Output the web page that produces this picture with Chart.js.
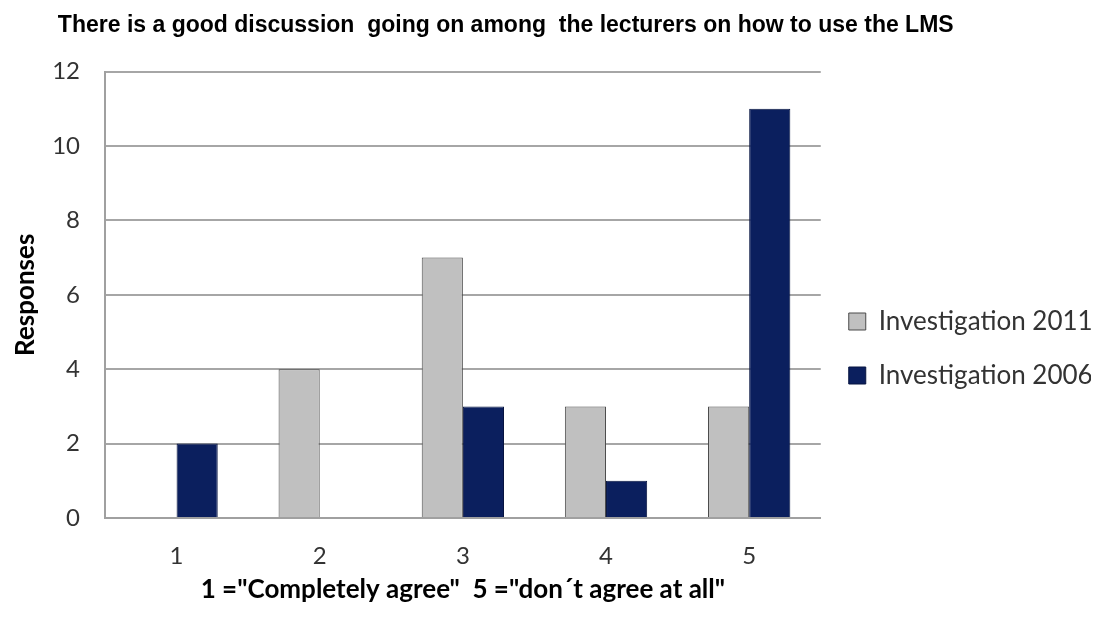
<!DOCTYPE html>
<html>
<head>
<meta charset="utf-8">
<script src="https://cdn.jsdelivr.net/npm/chart.js@4/dist/chart.umd.min.js"></script>
<style>
  html, body { margin: 0; padding: 0; background: #fff; }
  #wrap { width: 1109px; height: 617px; }
</style>
</head>
<body>
<div id="wrap"><canvas id="bars"></canvas></div>
<script>
var categories = ["1", "2", "3", "4", "5"];
var inv2011 = [0, 4, 7, 3, 3];
var inv2006 = [2, 0, 3, 1, 11];
var yTicks = [0, 2, 4, 6, 8, 10, 12];

var ctx = document.getElementById("bars").getContext("2d");
var axisFont = "Lato, 'Open Sans', sans-serif";

// trailing spaces push the centred title a little to the left, like the original
var titleText = "There is a good discussion  going on among  the lecturers on how to use the LMS" + "              ";

var myChart = new Chart(ctx, {
    type: "bar",
    data: {
        labels: categories,
        datasets: [
            {
                label: "Investigation 2011",
                data: inv2011,
                backgroundColor: "#c0c0c0",
                borderColor: "#4a4a4a",
                borderWidth: 1,
            },
            {
                label: "Investigation 2006",
                data: inv2006,
                backgroundColor: "#0b1f5e",
                borderColor: "#071440",
                borderWidth: 1,
            },
        ],
    },
    options: {
        responsive: true,
        maintainAspectRatio: false,
        animation: false,
        datasets: {
            bar: { categoryPercentage: 0.575, barPercentage: 1.0 },
        },
        layout: { padding: { left: 10, right: 18, top: 0, bottom: 12 } },
        plugins: {
            title: {
                display: true,
                text: titleText,
                color: "#000",
                font: { family: "'Liberation Sans', Arial, sans-serif", size: 23, weight: "bold" },
                padding: { top: 12, bottom: 32 },
            },
            legend: {
                position: "right",
                title: { display: true, text: " ", font: { size: 10 }, padding: { top: 0, bottom: 80 } },
                labels: {
                    color: "#333",
                    font: { family: axisFont, size: 26 },
                    boxWidth: 17,
                    boxHeight: 17,
                    padding: 28,
                },
            },
            tooltip: { enabled: false },
        },
        scales: {
            x: {
                afterFit: function (axis) { axis.height = 87; },
                grid: { display: false, drawTicks: false },
                border: { color: "#a0a0a0", width: 2 },
                ticks: { color: "#333", font: { family: axisFont, size: 24 }, padding: 24 },
                title: {
                    display: true,
                    text: "1 =\"Completely agree\"  5 =\"don\u00b4t agree at all\"",
                    color: "#000",
                    font: { family: axisFont, size: 26, weight: "bold" },
                    padding: { top: 0, bottom: 0 },
                },
            },
            y: {
                min: 0,
                max: 12,
                afterFit: function (axis) { axis.width = 95; },
                afterBuildTicks: function (axis) {
                    axis.ticks = yTicks.map(function (v) { return { value: v }; });
                },
                grid: { color: "#a6a6a6", lineWidth: 2, drawTicks: false },
                border: { color: "#a0a0a0", width: 2 },
                ticks: { color: "#333", font: { family: axisFont, size: 24 }, padding: 25 },
                title: {
                    display: true,
                    text: "Responses",
                    color: "#000",
                    font: { family: axisFont, size: 26, weight: "bold" },
                    padding: { top: 0, bottom: 0 },
                },
            },
        },
    },
});
</script>
</body>
</html>
